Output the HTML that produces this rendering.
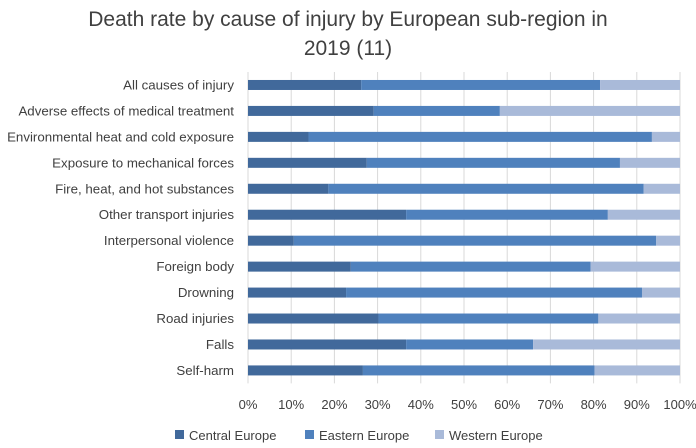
<!DOCTYPE html>
<html><head><meta charset="utf-8"><style>
body{margin:0;background:#fff;font-family:"Liberation Sans",sans-serif;}
svg text{font-family:"Liberation Sans",sans-serif;fill:#404040;}
</style></head><body>
<svg width="696" height="443">
<text x="348" y="26" text-anchor="middle" font-size="21">Death rate by cause of injury by European sub-region in</text>
<text x="348" y="55" text-anchor="middle" font-size="21">2019 (11)</text>
<g id="grid"></g><g id="bars"></g><g id="ylab"></g><g id="xlab"></g>
<g>
<rect x="175" y="430" width="9" height="9" fill="#41699b"/>
<text x="189" y="440" font-size="13">Central Europe</text>
<rect x="305" y="430" width="9" height="9" fill="#4f81bd"/>
<text x="319" y="440" font-size="13">Eastern Europe</text>
<rect x="435" y="430" width="9" height="9" fill="#a9bad9"/>
<text x="449" y="440" font-size="13">Western Europe</text>
</g>
</svg>
<script>
const categories=["All causes of injury","Adverse effects of medical treatment","Environmental heat and cold exposure","Exposure to mechanical forces","Fire, heat, and hot substances","Other transport injuries","Interpersonal violence","Foreign body","Drowning","Road injuries","Falls","Self-harm"];
const central=[26.2,29.1,14.0,27.5,18.6,36.6,10.6,23.8,22.7,30.2,36.6,26.6];
const eastern=[55.3,29.2,79.5,58.6,73.0,46.7,83.9,55.5,68.5,50.9,29.4,53.6];
const western=[18.5,41.7,6.5,13.9,8.4,16.7,5.5,20.7,8.8,18.9,34.0,19.8];
const ticks=[0,10,20,30,40,50,60,70,80,90,100];
const ns="http://www.w3.org/2000/svg";
const x0=248,x1=680,yTop=72,step=25.95,bh=10;
const xs=v=>x0+(x1-x0)*v/100;
const yc=i=>yTop+step*(i+0.5);
function mk(t,a,p){const e=document.createElementNS(ns,t);for(const k in a)e.setAttribute(k,a[k]);document.getElementById(p).appendChild(e);return e;}
ticks.forEach(t=>{
 const l=mk('line',{x1:xs(t),x2:xs(t),y1:yTop,y2:yTop+step*12,stroke:'#d9d9d9','stroke-width':1},'grid');
 
 
 const tx=mk('text',{x:xs(t),y:409,'text-anchor':'middle','font-size':13},'xlab');tx.textContent=t+'%';
 
 
});
const cols=['#41699b','#4f81bd','#a9bad9'],series=[central,eastern,western],sn=['central','eastern','western'];
categories.forEach((c,i)=>{
 let acc=0;
 series.forEach((s,k)=>{
  const r=mk('rect',{x:xs(acc),y:yc(i)-bh/2,width:xs(acc+s[i])-xs(acc),height:bh,fill:cols[k]},'bars');
  
  
  acc+=s[i];
 });
 const t=mk('text',{x:234,y:yc(i)+4.5,'text-anchor':'end','font-size':13.3},'ylab');t.textContent=c;
 
 
});
</script>
</body></html>
